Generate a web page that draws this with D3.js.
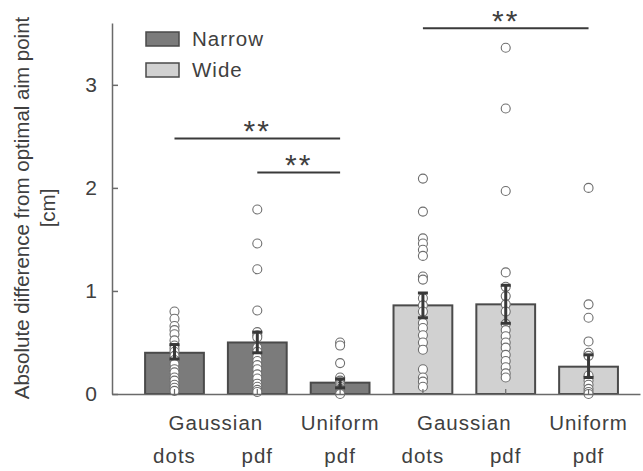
<!DOCTYPE html>
<html>
<head>
<meta charset="utf-8">
<script src="https://cdn.jsdelivr.net/npm/d3@7"></script>
<style>
  html, body { margin: 0; padding: 0; background: #fff; }
  svg { display: block; font-family: "Liberation Sans", Arial, sans-serif; }
</style>
</head>
<body>
<svg id="chart" width="643" height="471"></svg>
<script>
// ---------- data ----------
const categories = ["Narrow Gaussian dots", "Narrow Gaussian pdf", "Narrow Uniform pdf",
                    "Wide Gaussian dots", "Wide Gaussian pdf", "Wide Uniform pdf"];
const groups = ["Narrow", "Narrow", "Narrow", "Wide", "Wide", "Wide"];
const legendLabels = ["Narrow", "Wide"];
const means   = [0.40, 0.50, 0.11, 0.86, 0.87, 0.265];
const errLow  = [0.34, 0.40, 0.06, 0.74, 0.686, 0.16];
const errHigh = [0.48, 0.60, 0.145, 0.98, 1.055, 0.38];

const dotsNarrowGaussDots = [0.80, 0.73, 0.66, 0.62, 0.58, 0.52, 0.47, 0.44, 0.41, 0.37, 0.33, 0.29, 0.24, 0.21, 0.16, 0.13, 0.09, 0.06, 0.03];
const dotsNarrowGaussPdf  = [1.79, 1.46, 1.21, 0.81, 0.60, 0.57, 0.55, 0.45, 0.41, 0.36, 0.32, 0.28, 0.24, 0.19, 0.15, 0.10, 0.07, 0.04, 0.02];
const dotsNarrowUnifPdf   = [0.50, 0.47, 0.30, 0.16, 0.13, 0.11, 0.09, 0.07, 0.05, 0.04, 0.03, 0.02, 0.01, 0.0];
const dotsWideGaussDots   = [2.09, 1.77, 1.51, 1.46, 1.40, 1.34, 1.14, 1.11, 0.93, 0.86, 0.80, 0.69, 0.64, 0.57, 0.50, 0.43, 0.24, 0.16, 0.12, 0.07];
const dotsWideGaussPdf    = [3.36, 2.77, 1.97, 1.18, 1.04, 0.95, 0.87, 0.80, 0.68, 0.62, 0.56, 0.50, 0.45, 0.38, 0.32, 0.26, 0.20, 0.16];
const dotsWideUnifPdf     = [2.00, 0.87, 0.74, 0.51, 0.40, 0.37, 0.18, 0.13, 0.09, 0.05, 0.02, 0.0];
const dotSets = [dotsNarrowGaussDots, dotsNarrowGaussPdf, dotsNarrowUnifPdf,
                 dotsWideGaussDots, dotsWideGaussPdf, dotsWideUnifPdf];

const topLabels = ["Gaussian", "Uniform", "Gaussian", "Uniform"];
const topLabelSpans = [[0, 1], [2, 2], [3, 4], [5, 5]];
const bottomLabels = ["dots", "pdf", "pdf", "dots", "pdf", "pdf"];

const yTicks = [0, 1, 2, 3];
const yTitle = ["Absolute difference from optimal aim point", "[cm]"];

const sigFrom  = [0, 1, 3];
const sigTo    = [2, 2, 5];
const sigLevel = [2.48, 2.15, 3.55];
const sigText  = ["**", "**", "**"];

// ---------- drawing ----------
const svg = d3.select("#chart");
const textColor = "#404040";
const axisColor = "#6a6a6a";
const fillColor = d3.scaleOrdinal().domain(legendLabels).range(["#7b7b7b", "#d1d1d1"]);

const x = d3.scaleBand().domain(categories).range([112, 640])
  .paddingInner(0.29).paddingOuter(0.333).align(0.6);
const y = d3.scaleLinear().domain([0, 3.6]).range([394, 23]);

// bars
svg.append("g").selectAll("rect").data(categories).join("rect")
  .attr("x", d => x(d))
  .attr("y", (d, i) => y(means[i]))
  .attr("width", x.bandwidth())
  .attr("height", (d, i) => y(0) - y(means[i]))
  .attr("fill", (d, i) => fillColor(groups[i]))
  .attr("stroke", "#4a4a4a")
  .attr("stroke-width", 2);

// dots
categories.forEach((c, i) => {
  svg.append("g").selectAll("circle").data(dotSets[i]).join("circle")
    .attr("cx", x(c) + x.bandwidth() / 2)
    .attr("cy", d => y(d))
    .attr("r", 4.5)
    .attr("fill", "#fff")
    .attr("stroke", "#6e6e6e")
    .attr("stroke-width", 1.1);
});

// error bars
const eb = svg.append("g").attr("stroke", "#383838").attr("stroke-width", 3);
categories.forEach((c, i) => {
  const cx = x(c) + x.bandwidth() / 2;
  eb.append("line").attr("x1", cx).attr("x2", cx).attr("y1", y(errLow[i])).attr("y2", y(errHigh[i]));
  [errLow[i], errHigh[i]].forEach(v => {
    eb.append("line").attr("x1", cx - 5).attr("x2", cx + 5).attr("y1", y(v)).attr("y2", y(v));
  });
});

// y axis
const yAxis = svg.append("g").attr("transform", "translate(112,0)")
  .call(d3.axisLeft(y).tickValues(yTicks).tickFormat(d3.format("d"))
        .tickSize(-6).tickSizeOuter(0).tickPadding(15));
yAxis.select(".domain").attr("stroke", axisColor).attr("stroke-width", 1.5);
yAxis.selectAll(".tick line").attr("stroke", axisColor).attr("stroke-width", 1.5);
yAxis.selectAll(".tick text").attr("fill", textColor).attr("font-size", 21)
  .attr("font-family", "Liberation Sans, Arial, sans-serif");

// x axis
const xAxis = svg.append("g").attr("transform", "translate(0,394)")
  .call(d3.axisBottom(x).tickSize(-5).tickSizeOuter(0).tickFormat(""));
xAxis.select(".domain").attr("stroke", axisColor).attr("stroke-width", 1.5);
xAxis.selectAll(".tick line").attr("stroke", axisColor).attr("stroke-width", 1.2);

// x labels
const xl = svg.append("g").attr("fill", textColor).attr("font-size", 20.5)
  .attr("letter-spacing", 1).attr("text-anchor", "middle");
topLabels.forEach((t, k) => {
  const [a, b] = topLabelSpans[k];
  const cx = (x(categories[a]) + x(categories[b]) + x.bandwidth()) / 2;
  xl.append("text").attr("x", cx).attr("y", 430).text(t);
});
bottomLabels.forEach((t, i) => {
  xl.append("text").attr("x", x(categories[i]) + x.bandwidth() / 2).attr("y", 463).text(t);
});

// y title
const yt = svg.append("g").attr("fill", textColor).attr("font-size", 20.5).attr("text-anchor", "middle");
yt.append("text").attr("transform", "translate(29,208) rotate(-90)").text(yTitle[0]);
yt.append("text").attr("transform", "translate(55,208) rotate(-90)").text(yTitle[1]);

// significance
const sg = svg.append("g");
sigFrom.forEach((f, k) => {
  const x1 = x(categories[f]) + x.bandwidth() / 2;
  const x2 = x(categories[sigTo[k]]) + x.bandwidth() / 2;
  sg.append("line").attr("x1", x1).attr("x2", x2).attr("y1", y(sigLevel[k])).attr("y2", y(sigLevel[k]))
    .attr("stroke", "#3a3a3a").attr("stroke-width", 2);
  sg.append("text").attr("x", (x1 + x2) / 2).attr("y", y(sigLevel[k]) + 3)
    .attr("text-anchor", "middle").attr("fill", textColor).attr("font-size", 30)
    .attr("letter-spacing", 2).text(sigText[k]);
});

// legend
const lg = svg.append("g");
legendLabels.forEach((l, k) => {
  const yy = 32 + k * 31;
  lg.append("rect").attr("x", 146).attr("y", yy).attr("width", 33).attr("height", 14)
    .attr("fill", fillColor(l)).attr("stroke", "#4a4a4a").attr("stroke-width", 1.5);
  lg.append("text").attr("x", 192).attr("y", yy + 14).attr("fill", textColor)
    .attr("font-size", 20.5).attr("letter-spacing", 1).text(l);
});
</script>
</body>
</html>
